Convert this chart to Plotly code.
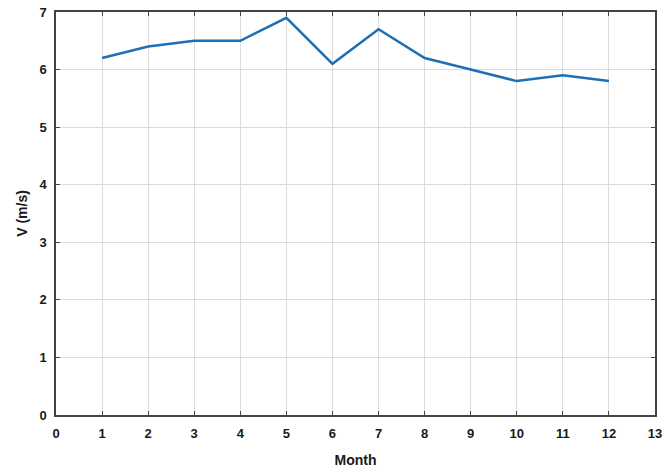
import plotly.graph_objects as go

months = [1, 2, 3, 4, 5, 6, 7, 8, 9, 10, 11, 12]
speed = [6.2, 6.4, 6.5, 6.5, 6.9, 6.1, 6.7, 6.2, 6.0, 5.8, 5.9, 5.8]
x_ticks = list(range(0, 14))
y_ticks = list(range(0, 8))

fig = go.Figure()
fig.add_trace(go.Scatter(x=months, y=speed, mode="lines",
                         line=dict(color="#1f6fb5", width=2.5)))

font = dict(family="Liberation Sans, Arial, sans-serif", size=13, color="#1a1a1a")
axis_common = dict(showgrid=True, gridcolor="#dcdcdc", gridwidth=1,
                   showline=True, linecolor="#444444", linewidth=1.5,
                   mirror="allticks", ticks="inside", ticklen=4, tickcolor="#444444",
                   zeroline=False, automargin=False, ticklabeloverflow="allow",
                   tickfont=dict(family="Liberation Sans, Arial", size=13, color="#1a1a1a", weight="bold"))

fig.update_layout(
    width=665, height=472,
    margin=dict(l=56, r=10, t=12, b=57),
    paper_bgcolor="white", plot_bgcolor="white",
    showlegend=False, font=font,
    xaxis=dict(range=[0, 13], tickvals=x_ticks, ticktext=[str(v) for v in x_ticks],
               ticklabelstandoff=6,
               title=dict(text="<b>Month</b>", standoff=15, font=dict(size=14)), **axis_common),
    yaxis=dict(range=[0, 7], tickvals=y_ticks, ticktext=[str(v) for v in y_ticks],
               ticklabelstandoff=5,
               title=dict(text="<b>V (m/s)</b>", standoff=9, font=dict(size=14)), **axis_common),
)
fig.write_html("out.html",
               config={"displayModeBar": False},
               post_script="document.body.style.margin='0';document.body.style.overflow='hidden';")
